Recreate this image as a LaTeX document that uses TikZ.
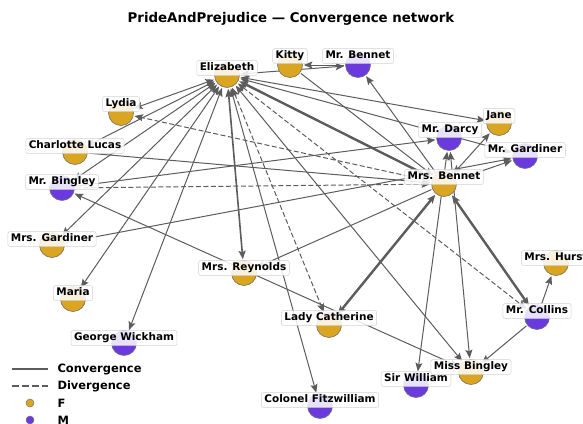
\documentclass[tikz,border=0pt]{standalone}
\usepackage{fontspec}
\setmainfont{DejaVu Sans}
\usetikzlibrary{arrows.meta}
\pgfdeclarelayer{bg}
\pgfsetlayers{bg,main}
\definecolor{fem}{RGB}{218,165,32}
\definecolor{male}{RGB}{106,58,222}
\definecolor{edge}{RGB}{92,92,92}

\begin{document}
\begin{tikzpicture}[x=1bp, y=-1bp, font=\bfseries\fontsize{10.5}{12}\selectfont,
	f/.style={circle, draw=black!55, line width=0.6bp, fill=fem, minimum size=25bp, inner sep=0pt},
	m/.style={f, fill=male},
	lbl/.style={draw=black!18, line width=0.5bp, fill=white, fill opacity=0.85, text opacity=1, rounded corners=2bp,
		inner xsep=3bp, inner ysep=2.3bp, text height=7.9bp, text depth=2.4bp},
	conv/.style={draw=edge, line width=1bp, -{Stealth[length=8.5bp,width=7bp,inset=1.5bp]}, shorten >=1bp, shorten <=1bp},
	div/.style={conv, dash pattern=on 5bp off 2.5bp},
	both/.style={{Stealth[length=8.5bp,width=7bp,inset=1.5bp]}-{Stealth[length=8.5bp,width=7bp,inset=1.5bp]}},
	mid/.style={line width=1.6bp},
	heavy/.style={line width=2.4bp}]

	\useasboundingbox (0,0) rectangle (583,423);

	\node (title) at (291,19) {\fontsize{13.4}{16}\selectfont PrideAndPrejudice — Convergence network};

	% people
	\node[f] (eliz) at (227,75) {};
	\node[f] (kitty) at (290,65) {};
	\node[m] (mrbennet) at (358,65) {};
	\node[f] (lydia) at (121,113) {};
	\node[f] (charlotte) at (75,152) {};
	\node[m] (bingley) at (62,188) {};
	\node[f] (mrsgardiner) at (52,245) {};
	\node[f] (maria) at (73,299) {};
	\node[m] (wickham) at (124,343) {};
	\node[f] (reynolds) at (244,273) {};
	\node[f] (lady) at (329,325) {};
	\node[m] (colonel) at (320,406) {};
	\node[m] (sirwilliam) at (416,385) {};
	\node[f] (missbingley) at (471,372) {};
	\node[m] (collins) at (537,317) {};
	\node[f] (hurst) at (556,263) {};
	\node[f] (mrsbennet) at (444,184) {};
	\node[m] (mrgardiner) at (525,156) {};
	\node[m] (darcy) at (449,138) {};
	\node[f] (jane) at (499,123) {};

	\begin{pgfonlayer}{bg}
	\draw[conv, both] (eliz) -- (lydia);
	\draw[conv, both] (eliz) -- (charlotte);
	\draw[conv, both] (eliz) -- (bingley);
	\draw[conv, both] (eliz) -- (mrsgardiner);
	\draw[conv, both] (eliz) -- (maria);
	\draw[conv, both] (eliz) -- (wickham);
	\draw[conv, both, mid] (eliz) -- (reynolds);
	\draw[conv, both] (eliz) -- (colonel);
	\draw[div, both] (eliz) -- (lady);
	\draw[div, both] (eliz) -- (collins);
	\draw[conv, both] (eliz) -- (missbingley);
	\draw[conv, both, heavy] (eliz) -- (mrsbennet);
	\draw[conv, both] (eliz) -- (jane);
	\draw[conv, both] (eliz) -- (mrgardiner);
	\draw[conv, both] (eliz) -- (mrbennet);

	\draw[conv] (mrbennet) -- (kitty);
	\draw[conv] (mrsbennet) -- (mrbennet);
	\draw[conv] (kitty) -- (mrsbennet);
	\draw[div] (mrsbennet) -- (lydia);
	\draw[div] (bingley) -- (mrsbennet);
	\draw[conv] (charlotte) -- (mrsbennet);
	\draw[conv] (bingley) -- (darcy);
	\draw[conv] (mrsgardiner) -- (mrgardiner);
	\draw[conv] (mrsbennet) -- (mrgardiner);
	\draw[conv, both] (mrsbennet) -- (jane);
	\draw[conv] (mrsbennet) -- (reynolds);
	\draw[conv, both, heavy] (mrsbennet) -- (lady);
	\draw[conv, both, heavy] (mrsbennet) -- (collins);
	\draw[conv, both] (darcy) -- (sirwilliam);
	\draw[conv, both] (darcy) -- (missbingley);
	\draw[conv] (collins) -- (hurst);
	\draw[conv] (collins) -- (missbingley);
	\draw[conv, both] (bingley) -- (missbingley);
	\end{pgfonlayer}

	% names
	\node[lbl] (elizL) at (227,68) {Elizabeth};
	\node[lbl] (kittyL) at (290,56) {Kitty};
	\node[lbl] (mrbennetL) at (358,56) {Mr. Bennet};
	\node[lbl] (lydiaL) at (121,104) {Lydia};
	\node[lbl] (charlotteL) at (75,146) {Charlotte Lucas};
	\node[lbl] (bingleyL) at (62,182) {Mr. Bingley};
	\node[lbl] (mrsgardinerL) at (52,239) {Mrs. Gardiner};
	\node[lbl] (mariaL) at (73,293) {Maria};
	\node[lbl] (wickhamL) at (124,338) {George Wickham};
	\node[lbl] (reynoldsL) at (244,268) {Mrs. Reynolds};
	\node[lbl] (ladyL) at (329,318) {Lady Catherine};
	\node[lbl] (colonelL) at (320,400) {Colonel Fitzwilliam};
	\node[lbl] (sirwilliamL) at (416,379) {Sir William};
	\node[lbl] (missbingleyL) at (471,367) {Miss Bingley};
	\node[lbl] (collinsL) at (537,311) {Mr. Collins};
	\node[lbl] (hurstL) at (556,258) {Mrs. Hurst};
	\node[lbl] (mrsbennetL) at (444,177) {Mrs. Bennet};
	\node[lbl] (mrgardinerL) at (525,150) {Mr. Gardiner};
	\node[lbl] (darcyL) at (450,130) {Mr. Darcy};
	\node[lbl] (janeL) at (499,116) {Jane};

	% legend
	\coordinate (cA) at (12,369);
	\coordinate (cB) at (48,369);
	\coordinate (dA) at (12,386);
	\coordinate (dB) at (48,386);
	\draw[draw=edge, line width=2bp] (cA) -- (cB);
	\draw[draw=edge, line width=2bp, dash pattern=on 7bp off 3bp] (dA) -- (dB);
	\node[circle, draw=black!55, line width=0.5bp, fill=fem, minimum size=8bp, inner sep=0pt] (keyF) at (30,403) {};
	\node[circle, draw=black!55, line width=0.5bp, fill=male, minimum size=8bp, inner sep=0pt] (keyM) at (30,420) {};
	\node[anchor=west, font=\bfseries\fontsize{11.5}{13}\selectfont] (convT) at (54,369) {Convergence};
	\node[anchor=west, font=\bfseries\fontsize{11.5}{13}\selectfont] (divT) at (54,386) {Divergence};
	\node[anchor=west, font=\bfseries\fontsize{11.5}{13}\selectfont] (fT) at (54,403) {F};
	\node[anchor=west, font=\bfseries\fontsize{11.5}{13}\selectfont] (mT) at (54,420) {M};

\end{tikzpicture}
\end{document}
